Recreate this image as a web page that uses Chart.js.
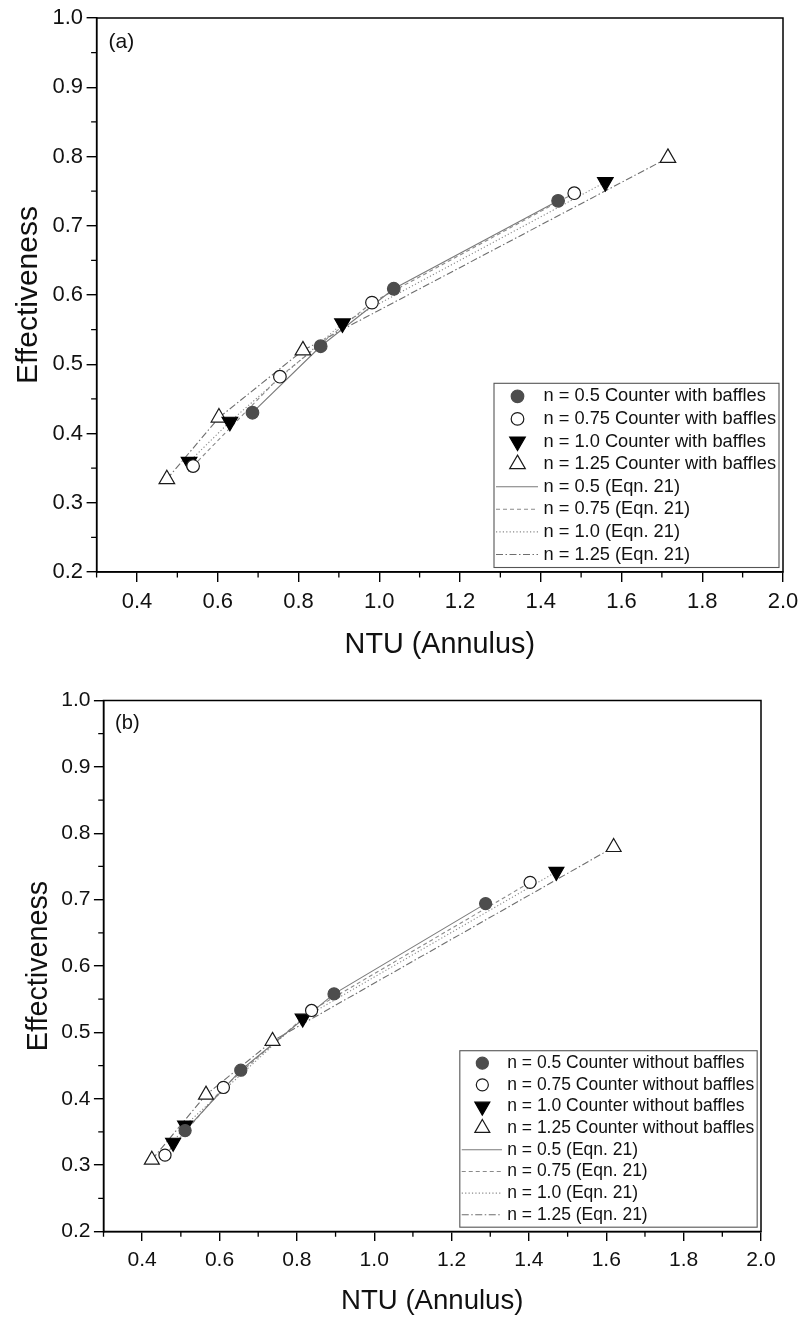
<!DOCTYPE html>
<html>
<head>
<meta charset="utf-8">
<script src="https://cdn.jsdelivr.net/npm/chart.js@4.4.1/dist/chart.umd.min.js"></script>
<style>
  html, body { margin: 0; padding: 0; background: #ffffff; }
  #fig { position: relative; width: 803px; height: 1317px; background: #ffffff; overflow: hidden; }
  #fig canvas { position: absolute; left: 0; }
</style>
</head>
<body>
<div id="fig">
  <canvas id="panelA"></canvas>
  <canvas id="panelB"></canvas>
</div>
<script>
// Effectiveness vs. NTU (annulus) for counter-flow operation, power-law index n.
// Measured points are shown as markers; Eqn. 21 curves are drawn through the same NTU values.

const xTickValues = [0.4, 0.6, 0.8, 1.0, 1.2, 1.4, 1.6, 1.8, 2.0];
const yTickValues = [0.2, 0.3, 0.4, 0.5, 0.6, 0.7, 0.8, 0.9, 1.0];
const flowIndexLabels = ['0.5', '0.75', '1.0', '1.25'];

// (a) counter flow with baffles
const ntuA_n050 = [0.686, 0.855, 1.036, 1.443];
const effA_n050 = [0.430, 0.526, 0.609, 0.736];
const ntuA_n075 = [0.539, 0.754, 0.982, 1.483];
const effA_n075 = [0.353, 0.482, 0.589, 0.747];
const ntuA_n100 = [0.529, 0.630, 0.909, 1.560];
const effA_n100 = [0.359, 0.417, 0.559, 0.763];
const ntuA_n125 = [0.474, 0.603, 0.811, 1.715];
const effA_n125 = [0.334, 0.423, 0.520, 0.798];

// (b) counter flow without baffles
const ntuB_n050 = [0.511, 0.655, 0.896, 1.288];
const effB_n050 = [0.352, 0.443, 0.558, 0.694];
const ntuB_n075 = [0.459, 0.610, 0.838, 1.403];
const effB_n075 = [0.315, 0.417, 0.533, 0.726];
const ntuB_n100 = [0.480, 0.511, 0.815, 1.471];
const effB_n100 = [0.334, 0.360, 0.521, 0.742];
const ntuB_n125 = [0.425, 0.565, 0.737, 1.619];
const effB_n125 = [0.308, 0.406, 0.487, 0.779];

const FONT = "'Liberation Sans', Arial, Helvetica, sans-serif";
Chart.defaults.font.family = FONT;

const markerStyles = [
  { pointStyle: 'circle',   rotation: 0,   radius: 6.3, fill: '#4d4d4d', stroke: '#4d4d4d' },
  { pointStyle: 'circle',   rotation: 0,   radius: 6.3, fill: '#ffffff', stroke: '#1a1a1a' },
  { pointStyle: 'triangle', rotation: 180, radius: 9,   fill: '#000000', stroke: '#000000' },
  { pointStyle: 'triangle', rotation: 0,   radius: 9,   fill: '#ffffff', stroke: '#1a1a1a' }
];
const lineStyles = [
  { color: '#7a7a7a', dash: [] },
  { color: '#8a8a8a', dash: [4, 3] },
  { color: '#8a8a8a', dash: [1.2, 2.2] },
  { color: '#6e6e6e', dash: [7, 2.5, 1.5, 2.5] }
];

const panels = [
  {
    id: 'panelA', top: 0, height: 680, s: 1,
    area: { left: 96.6, right: 783, top: 18, bottom: 572 },
    tag: '(a)', suffix: 'Counter with baffles',
    ntu: [ntuA_n050, ntuA_n075, ntuA_n100, ntuA_n125],
    eff: [effA_n050, effA_n075, effA_n100, effA_n125]
  },
  {
    id: 'panelB', top: 680, height: 637, s: 0.958,
    area: { left: 103.5, right: 761, top: 700.5, bottom: 1231.5 },
    tag: '(b)', suffix: 'Counter without baffles',
    ntu: [ntuB_n050, ntuB_n075, ntuB_n100, ntuB_n125],
    eff: [effB_n050, effB_n075, effB_n100, effB_n125]
  }
];

function pairs(xs, ys) { return xs.map((x, i) => ({ x: x, y: ys[i] })); }

// frame, minor ticks, panel tag and boxed legend
const panelDecor = {
  id: 'panelDecor',
  afterDraw(chart, args, opts) {
    const ctx = chart.ctx;
    const a = chart.chartArea;
    const s = opts.s;
    const xs = chart.scales.x, ys = chart.scales.y;
    ctx.save();

    // full frame
    ctx.strokeStyle = '#000';
    ctx.lineWidth = 1.5;
    ctx.setLineDash([]);
    ctx.strokeRect(a.left, a.top, a.right - a.left, a.bottom - a.top);

    // minor ticks halfway between labelled ticks
    ctx.lineWidth = 1.3;
    ctx.beginPath();
    for (let i = 0; i < xTickValues.length; i++) {
      const v = xTickValues[i] - 0.1;
      if (v < xs.min - 1e-9) continue;
      const px = xs.getPixelForValue(v);
      ctx.moveTo(px, a.bottom);
      ctx.lineTo(px, a.bottom + 5.5 * s);
    }
    for (let i = 1; i < yTickValues.length; i++) {
      const v = (yTickValues[i] + yTickValues[i - 1]) / 2;
      const py = ys.getPixelForValue(v);
      ctx.moveTo(a.left, py);
      ctx.lineTo(a.left - 5.5 * s, py);
    }
    ctx.stroke();

    // panel tag
    ctx.fillStyle = '#111';
    ctx.font = (21 * s) + 'px ' + FONT;
    ctx.textAlign = 'left';
    ctx.textBaseline = 'middle';
    ctx.fillText(opts.tag, a.left + 12 * s, a.top + 24 * s);

    // legend
    const fs = 18.26 * s;
    ctx.font = fs + 'px ' + FONT;
    const items = [];
    for (let k = 0; k < 4; k++) items.push({ kind: 'marker', k: k, text: 'n = ' + flowIndexLabels[k] + ' ' + opts.suffix });
    for (let k = 0; k < 4; k++) items.push({ kind: 'line', k: k, text: 'n = ' + flowIndexLabels[k] + ' (Eqn. 21)' });
    let maxW = 0;
    items.forEach(it => { maxW = Math.max(maxW, ctx.measureText(it.text).width); });
    const rowH = 22.6 * s, padY = 13 * s;
    const boxR = a.right - 4 * s, boxB = a.bottom - 4.5 * s;
    const boxH = 2 * padY + (items.length - 1) * rowH;
    const boxL = boxR - (49.5 * s + maxW + 3 * s);
    const boxT = boxB - boxH;
    ctx.fillStyle = '#ffffff';
    ctx.fillRect(boxL, boxT, boxR - boxL, boxH);
    ctx.strokeStyle = '#555';
    ctx.lineWidth = 1.1;
    ctx.strokeRect(boxL, boxT, boxR - boxL, boxH);

    items.forEach((it, i) => {
      const cy = boxT + padY + i * rowH;
      if (it.kind === 'marker') {
        const m = markerStyles[it.k];
        ctx.fillStyle = m.fill;
        ctx.strokeStyle = m.stroke;
        ctx.lineWidth = 1.2;
        ctx.setLineDash([]);
        Chart.helpers.drawPoint(ctx, { pointStyle: m.pointStyle, rotation: m.rotation, radius: m.radius * s, borderWidth: 1.2 },
          boxL + 23.5 * s, cy);
      } else {
        const l = lineStyles[it.k];
        ctx.strokeStyle = l.color;
        ctx.lineWidth = 1.1;
        ctx.setLineDash(l.dash);
        ctx.beginPath();
        ctx.moveTo(boxL + 2 * s, cy);
        ctx.lineTo(boxL + 44 * s, cy);
        ctx.stroke();
        ctx.setLineDash([]);
      }
      ctx.fillStyle = '#111';
      ctx.font = fs + 'px ' + FONT;
      ctx.textAlign = 'left';
      ctx.textBaseline = 'middle';
      ctx.fillText(it.text, boxL + 49.5 * s, cy);
    });
    ctx.restore();
  }
};

panels.forEach(p => {
  const canvas = document.getElementById(p.id);
  canvas.width = 803;
  canvas.height = p.height;
  canvas.style.top = p.top + 'px';
  const s = p.s;
  const bottomEdge = p.top + p.height;

  const datasets = [];
  for (let k = 0; k < 4; k++) {
    const m = markerStyles[k];
    datasets.push({
      label: 'n = ' + flowIndexLabels[k] + ' ' + p.suffix,
      data: pairs(p.ntu[k], p.eff[k]),
      showLine: false,
      pointStyle: m.pointStyle,
      rotation: m.rotation,
      pointRadius: m.radius * s,
      pointHoverRadius: m.radius * s,
      pointBackgroundColor: m.fill,
      pointBorderColor: m.stroke,
      pointBorderWidth: 1.2,
      order: 0
    });
  }
  for (let k = 0; k < 4; k++) {
    const l = lineStyles[k];
    datasets.push({
      label: 'n = ' + flowIndexLabels[k] + ' (Eqn. 21)',
      data: pairs(p.ntu[k], p.eff[k]),
      showLine: true,
      borderColor: l.color,
      borderWidth: 1.1,
      borderDash: l.dash,
      pointRadius: 0,
      pointHoverRadius: 0,
      tension: 0,
      order: 1
    });
  }

  const xTitleCenter = p.area.bottom + 73 * s;
  const yTitleCenter = p.area.left - 67.6 * s;
  const xTitleSize = 28.8 * s;
  const yTitleSize = 30 * s;

  new Chart(canvas, {
    type: 'scatter',
    data: { datasets: datasets },
    options: {
      responsive: false,
      animation: false,
      devicePixelRatio: 1,
      events: [],
      layout: { padding: { top: p.area.top - p.top, right: 803 - p.area.right, left: 0, bottom: 0 } },
      plugins: {
        legend: { display: false },
        tooltip: { enabled: false },
        panelDecor: { s: s, tag: p.tag, suffix: p.suffix }
      },
      scales: {
        x: {
          type: 'linear', min: 0.3, max: 2.0,
          afterFit(sc) {
            sc.height = bottomEdge - p.area.bottom;
            sc.paddingLeft = 0;
            sc.paddingRight = 0;
          },
          afterBuildTicks(sc) { sc.ticks = xTickValues.map(v => ({ value: v })); },
          ticks: {
            callback: v => Number(v).toFixed(1),
            font: { size: 22 * s, lineHeight: 1 }, color: '#111',
            padding: 8.5 * s, maxRotation: 0, minRotation: 0, autoSkip: false
          },
          grid: { display: true, drawOnChartArea: false, drawTicks: true, tickLength: 10 * s, color: '#000', lineWidth: 1.4 },
          border: { display: true, color: '#000', width: 1.5 },
          title: {
            display: true, text: 'NTU (Annulus)', color: '#111',
            font: { size: xTitleSize, lineHeight: 1 },
            padding: { top: 0, bottom: bottomEdge - xTitleCenter - xTitleSize / 2 }
          }
        },
        y: {
          type: 'linear', min: 0.2, max: 1.0,
          afterFit(sc) {
            sc.width = p.area.left;
            sc.paddingTop = 0;
            sc.paddingBottom = 0;
          },
          afterBuildTicks(sc) { sc.ticks = yTickValues.map(v => ({ value: v })); },
          ticks: {
            callback: v => Number(v).toFixed(1),
            font: { size: 22 * s, lineHeight: 1 }, color: '#111',
            padding: 3.5 * s, autoSkip: false
          },
          grid: { display: true, drawOnChartArea: false, drawTicks: true, tickLength: 10 * s, color: '#000', lineWidth: 1.4 },
          border: { display: true, color: '#000', width: 1.5 },
          title: {
            display: true, text: 'Effectiveness', color: '#111',
            font: { size: yTitleSize, lineHeight: 1 },
            padding: { top: yTitleCenter - yTitleSize / 2, bottom: 0 }
          }
        }
      }
    },
    plugins: [panelDecor]
  });
});
</script>
</body>
</html>
